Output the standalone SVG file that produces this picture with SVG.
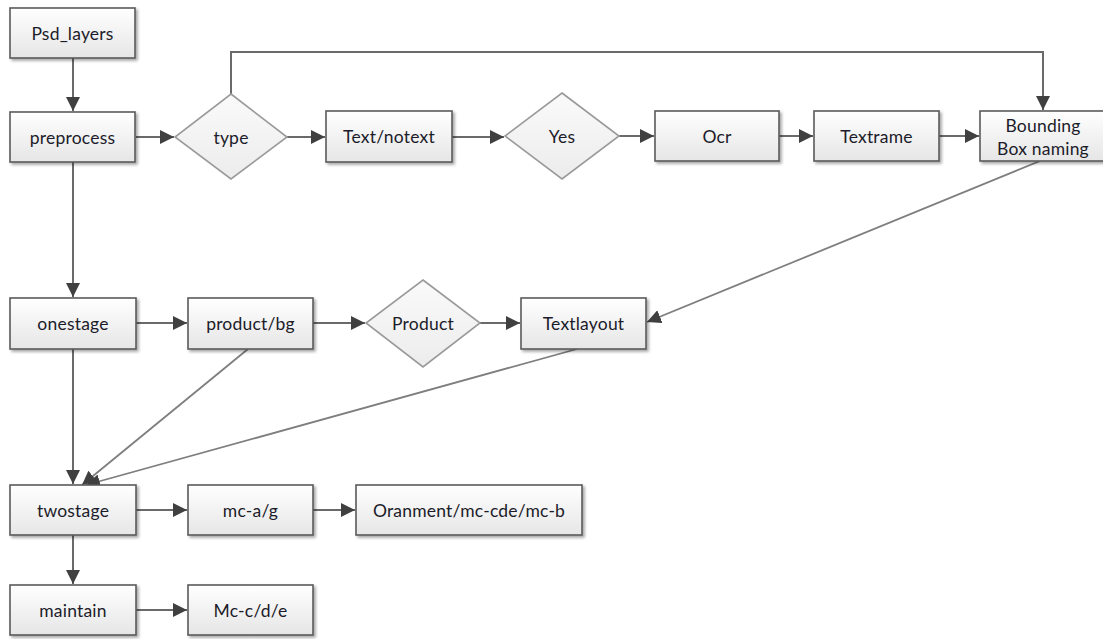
<svg xmlns="http://www.w3.org/2000/svg" width="1103" height="639" viewBox="0 0 1103 639">
<defs>
<linearGradient id="gb" x1="0" y1="0" x2="0" y2="1">
<stop offset="0" stop-color="#ffffff"/>
<stop offset="1" stop-color="#e6e6e6"/>
</linearGradient>
<linearGradient id="gd" x1="0" y1="0" x2="0" y2="1">
<stop offset="0" stop-color="#fafafa"/>
<stop offset="1" stop-color="#ececec"/>
</linearGradient>
<filter id="sh" x="-10%" y="-10%" width="130%" height="140%">
<feGaussianBlur in="SourceAlpha" stdDeviation="1.5"/>
<feOffset dx="2" dy="2"/>
<feComponentTransfer><feFuncA type="linear" slope="0.35"/></feComponentTransfer>
<feMerge><feMergeNode/><feMergeNode in="SourceGraphic"/></feMerge>
</filter>
<marker id="ah" viewBox="0 0 12 12" refX="12" refY="6" markerWidth="14" markerHeight="14" markerUnits="userSpaceOnUse" orient="auto">
<path d="M0,0 L12,6 L0,12 z" fill="#404040"/>
</marker>
</defs>
<style>
.box{fill:url(#gb);stroke:#5a5a5a;stroke-width:1.6;filter:url(#sh)}
.dia{fill:url(#gd);stroke:#9a9a9a;stroke-width:1.6}
.lbl{font-family:Lato,"Open Sans","Liberation Sans",sans-serif;font-size:17.5px;letter-spacing:0.2px;fill:#1c1c2a;text-anchor:middle;dominant-baseline:central}
.c{fill:none;stroke:#6a6a6a;stroke-width:2;marker-end:url(#ah)}
.cl{fill:none;stroke:#7e7e7e;stroke-width:1.8;marker-end:url(#ah)}
</style>
<rect width="1103" height="639" fill="#ffffff"/>
<g id="connectors">
<line class="c" x1="73" y1="58" x2="73" y2="111"/>
<line class="c" x1="136" y1="137" x2="174" y2="137"/>
<line class="c" x1="287" y1="137" x2="325" y2="137"/>
<line class="c" x1="452" y1="137" x2="504" y2="137"/>
<line class="c" x1="619" y1="136" x2="654" y2="136"/>
<line class="c" x1="779" y1="136" x2="813" y2="136"/>
<line class="c" x1="939" y1="136" x2="979" y2="136"/>
<polyline class="c" points="231,94 231,52 1043,52 1043,110"/>
<line class="c" x1="73" y1="162" x2="73" y2="297"/>
<line class="c" x1="136" y1="323" x2="187" y2="323"/>
<line class="c" x1="313" y1="323" x2="365" y2="323"/>
<line class="c" x1="480" y1="323" x2="520" y2="323"/>
<line class="cl" x1="1040" y1="161" x2="647" y2="322"/>
<line class="c" x1="73" y1="349" x2="73" y2="484"/>
<line class="cl" x1="248" y1="349" x2="82" y2="485"/>
<line class="cl" x1="577" y1="349" x2="86" y2="485"/>
<line class="c" x1="136" y1="510" x2="187" y2="510"/>
<line class="c" x1="313" y1="510" x2="355" y2="510"/>
<line class="c" x1="73" y1="535" x2="73" y2="584"/>
<line class="c" x1="136" y1="610" x2="187" y2="610"/>
</g>
<g id="psd_layers"><rect class="box" x="10" y="8" width="125" height="50"/><text class="lbl" x="72.5" y="33">Psd_layers</text></g>
<g id="preprocess"><rect class="box" x="10" y="112" width="125" height="50"/><text class="lbl" x="72.5" y="137">preprocess</text></g>
<g id="type"><polygon class="dia" points="231,94 287,137 231,179 175,137"/><text class="lbl" x="231" y="137">type</text></g>
<g id="text_notext"><rect class="box" x="326" y="111" width="126" height="51"/><text class="lbl" x="389" y="136.5">Text/notext</text></g>
<g id="yes"><polygon class="dia" points="562,93 619,136 562,179 505,136"/><text class="lbl" x="562" y="136">Yes</text></g>
<g id="ocr"><rect class="box" x="655" y="111" width="124" height="50"/><text class="lbl" x="717" y="136">Ocr</text></g>
<g id="textrame"><rect class="box" x="814" y="111" width="125" height="50"/><text class="lbl" x="876.5" y="136">Textrame</text></g>
<g id="bounding"><rect class="box" x="980" y="111" width="125" height="50"/><text class="lbl" x="1043" y="125">Bounding</text><text class="lbl" x="1043" y="148">Box naming</text></g>
<g id="onestage"><rect class="box" x="10" y="298" width="126" height="51"/><text class="lbl" x="73" y="323.5">onestage</text></g>
<g id="product_bg"><rect class="box" x="188" y="298" width="125" height="51"/><text class="lbl" x="250.5" y="323.5">product/bg</text></g>
<g id="product"><polygon class="dia" points="423,280 480,323 423,367 366,323"/><text class="lbl" x="423" y="323">Product</text></g>
<g id="textlayout"><rect class="box" x="521" y="298" width="125" height="51"/><text class="lbl" x="583.5" y="323.5">Textlayout</text></g>
<g id="twostage"><rect class="box" x="10" y="485" width="126" height="50"/><text class="lbl" x="73" y="510">twostage</text></g>
<g id="mc_ag"><rect class="box" x="188" y="485" width="125" height="50"/><text class="lbl" x="250.5" y="510">mc-a/g</text></g>
<g id="oranment"><rect class="box" x="356" y="485" width="226" height="50"/><text class="lbl" x="469" y="510">Oranment/mc-cde/mc-b</text></g>
<g id="maintain"><rect class="box" x="10" y="585" width="126" height="50"/><text class="lbl" x="73" y="610">maintain</text></g>
<g id="mc_cde"><rect class="box" x="188" y="585" width="125" height="50"/><text class="lbl" x="250.5" y="610">Mc-c/d/e</text></g>
</svg>
